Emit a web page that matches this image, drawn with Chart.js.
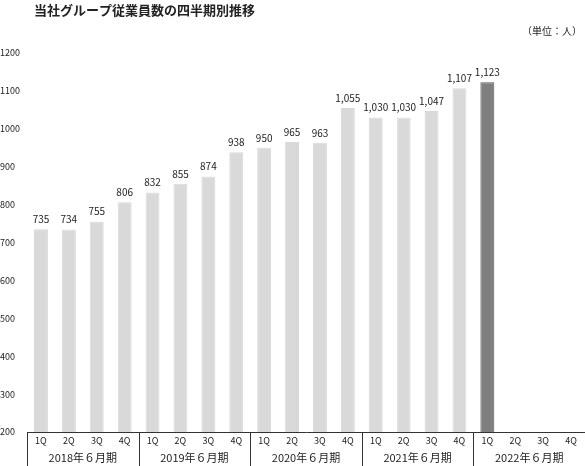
<!DOCTYPE html>
<html>
<head>
<meta charset="utf-8">
<script src="https://cdn.jsdelivr.net/npm/chart.js@4"></script>
<style>
  html, body { margin: 0; padding: 0; background: #fff; }
  #wrap { width: 585px; height: 466px; }
</style>
</head>
<body>
<div id="wrap"><canvas id="chart" width="585" height="466"></canvas></div>
<script>
const TITLE = "当社グループ従業員数の四半期別推移";
const UNIT = "（単位：人）";
const quarters = ["1Q", "2Q", "3Q", "4Q"];
const fiscalYears = ["2018年６月期", "2019年６月期", "2020年６月期", "2021年６月期", "2022年６月期"];
const employees = [735, 734, 755, 806, 832, 855, 874, 938, 950, 965, 963, 1055, 1030, 1030, 1047, 1107, 1123, null, null, null];
const yTicks = [200, 300, 400, 500, 600, 700, 800, 900, 1000, 1100, 1200];

const FONT = "'Noto Sans CJK JP', 'Noto Sans', sans-serif";

const labels = [];
fiscalYears.forEach(() => quarters.forEach(q => labels.push(q)));

const barColors = employees.map((v, i) => i === 16 ? "#7f7f7f" : "#d9d9d9");
const borderColors = employees.map((v, i) => i === 16 ? "#5a5a5a" : "#d9d9d9");

const extras = {
    id: "extras",
    afterDraw(chart) {
        const ctx = chart.ctx;
        const x = chart.scales.x;
        const area = chart.chartArea;
        ctx.save();

        // title + unit
        ctx.fillStyle = "#222";
        ctx.font = "bold 13px " + FONT;
        ctx.textAlign = "left";
        ctx.textBaseline = "middle";
        ctx.fillText(TITLE, 34, 10);
        ctx.font = "10px " + FONT;
        ctx.textAlign = "right";
        ctx.fillText(UNIT, 582, 31);

        // value labels
        const meta = chart.getDatasetMeta(0);
        ctx.font = "10px " + FONT;
        ctx.textAlign = "center";
        ctx.textBaseline = "bottom";
        meta.data.forEach((bar, i) => {
            const v = employees[i];
            if (v == null) return;
            ctx.fillText(v.toLocaleString("en-US"), bar.x, bar.y - 5);
        });

        // table lines and fiscal year labels
        ctx.strokeStyle = "#333";
        ctx.lineWidth = 1;
        const step = x.getPixelForValue(1) - x.getPixelForValue(0);
        const bottom = chart.height;
        for (let g = 0; g <= fiscalYears.length; g++) {
            let px = g === fiscalYears.length ? area.right - 0.5 : x.getPixelForValue(g * 4) - step / 2;
            px = Math.round(px) + 0.5;
            ctx.beginPath();
            ctx.moveTo(px, area.bottom);
            ctx.lineTo(px, bottom);
            ctx.stroke();
        }
        ctx.font = "11px " + FONT;
        ctx.textBaseline = "middle";
        ctx.fillStyle = "#222";
        fiscalYears.forEach((fy, g) => {
            const cx = (x.getPixelForValue(g * 4) + x.getPixelForValue(g * 4 + 3)) / 2;
            ctx.fillText(fy, cx, 458);
        });
        ctx.restore();
    }
};

new Chart(document.getElementById("chart"), {
    type: "bar",
    data: {
        labels: labels,
        datasets: [{
            data: employees,
            backgroundColor: barColors,
            borderColor: borderColors,
            borderWidth: 1,
            barPercentage: 1,
            categoryPercentage: 0.5
        }]
    },
    options: {
        responsive: false,
        animation: false,
        layout: { padding: { top: 53, right: 0, left: 0, bottom: 0 } },
        plugins: { legend: { display: false }, tooltip: { enabled: false } },
        scales: {
            x: {
                grid: { display: false, drawTicks: false },
                border: { display: true, color: "#333", width: 1 },
                ticks: { color: "#222", font: { family: FONT, size: 9 }, padding: 3, maxRotation: 0, autoSkip: false },
                afterFit(scale) { scale.height = 34; }
            },
            y: {
                min: 200,
                max: 1200,
                afterBuildTicks(scale) { scale.ticks = yTicks.map(v => ({ value: v })); },
                grid: { display: false, drawTicks: false },
                border: { display: false },
                ticks: { color: "#222", font: { family: FONT, size: 9 }, crossAlign: "far", padding: 0, callback: v => String(v) },
                afterFit(scale) { scale.width = 27; }
            }
        }
    },
    plugins: [extras]
});
</script>
</body>
</html>
